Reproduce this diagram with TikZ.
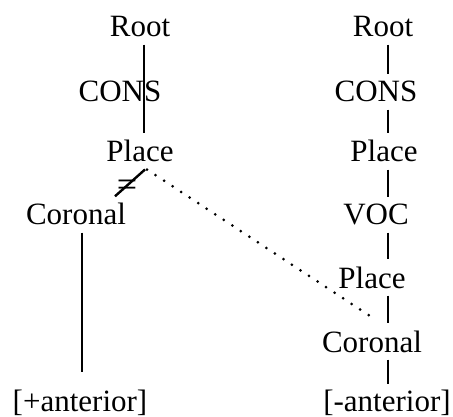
\documentclass[tikz,border=0pt]{standalone}
\usepackage{fontspec}
\setmainfont{Liberation Serif}
\usepackage{tikz}

\begin{document}
\begin{tikzpicture}[
  x=1pt,y=-1pt,
  feature/.style={anchor=base,inner sep=7pt,
    font=\fontsize{31}{36}\selectfont},
  branch/.style={draw=black,line width=2.4pt},
  spread/.style={draw=black,line width=3pt,line cap=round,
    dash pattern=on 0pt off 10.2pt},
  delink/.style={font=\fontsize{36}{40}\selectfont,inner sep=0pt}
]
\useasboundingbox (0,0) rectangle (453,417);

% left tree
\coordinate (axisL) at (144,0);
\node[feature] (root1) at (140,37) {Root};
\node[feature] (cons1) at (120,102) {CONS};
\node[feature] (place1) at (140,162) {Place};
\node[feature] (cor1) at (76,225) {Coronal};
\node[feature] (ant1) at (80,411) {[+anterior]};

% right tree
\coordinate (axisR) at (388,0);
\node[feature] (root2) at (383,37) {Root};
\node[feature] (cons2) at (376,102) {CONS};
\node[feature] (place2) at (384,162) {Place};
\node[feature] (voc2) at (376,225) {VOC};
\node[feature] (placeb2) at (372,288) {Place};
\node[feature] (cor2) at (372,352) {Coronal};
\node[feature] (ant2) at (387,411) {[-anterior]};

\draw[branch] (root1.south -| axisL) -- (place1.north -| axisL);
\draw[branch] ([xshift=5pt]place1.south) -- ([xshift=39pt]cor1.north)
  node[delink,midway,xshift=-3pt,yshift=-5pt] (cut) {=};
\draw[branch,shorten >=10pt] ([xshift=6pt]cor1.south) -- ([xshift=2pt]ant1.north);

\draw[branch] (root2.south -| axisR) -- (cons2.north -| axisR);
\draw[branch] (cons2.south -| axisR) -- (place2.north -| axisR);
\draw[branch] (place2.south -| axisR) -- (voc2.north -| axisR);
\draw[branch] (voc2.south -| axisR) -- (placeb2.north -| axisR);
\draw[branch] (placeb2.south -| axisR) -- (cor2.north -| axisR);
\draw[branch] (cor2.south -| axisR) -- ([yshift=-2pt]ant2.north -| axisR);

\draw[spread] ([xshift=7pt]place1.south) -- ([yshift=6pt]cor2.north);
\end{tikzpicture}
\end{document}
